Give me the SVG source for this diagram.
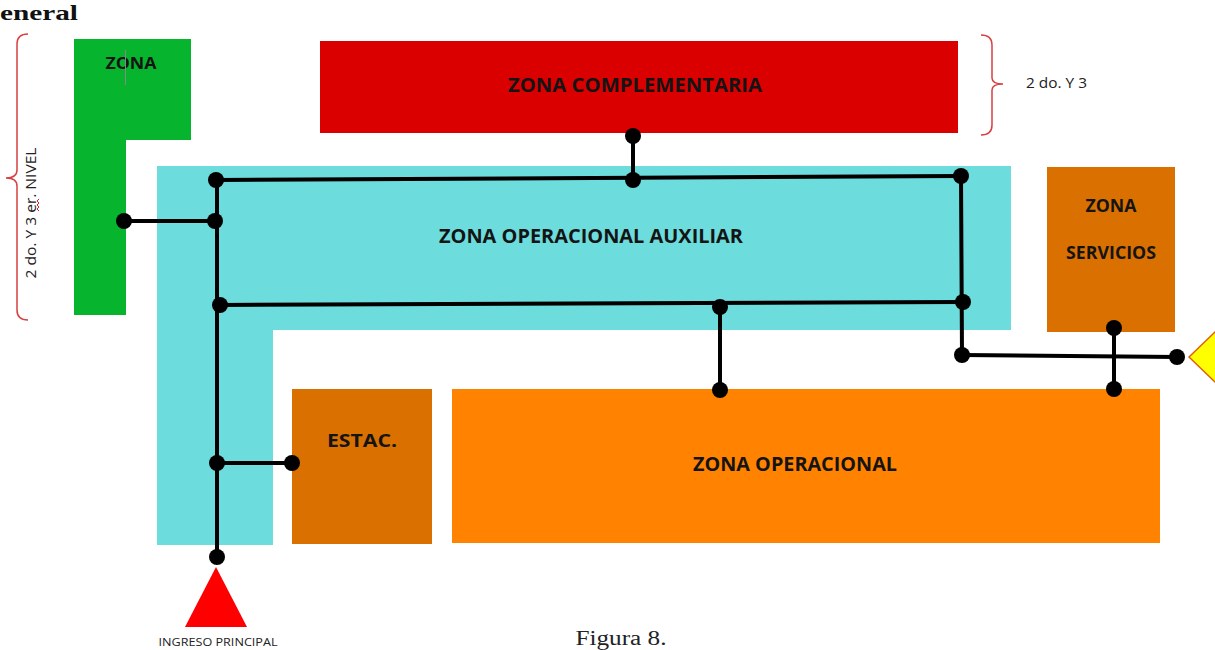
<svg xmlns="http://www.w3.org/2000/svg" width="1215" height="650" viewBox="0 0 1215 650">
<style>
.lbl{font-family:"Open Sans","Liberation Sans",sans-serif;font-weight:700;fill:#141414;text-anchor:middle}
.note{font-family:"Open Sans","Liberation Sans",sans-serif;fill:#222}
.br{fill:none;stroke:#d94040;stroke-width:1.5}
.cn line{stroke:#000;stroke-width:4;stroke-linecap:round}
.cn circle{fill:#000}
</style>
<rect width="1215" height="650" fill="#fff"/>
<text x="0" y="20" font-family="'Liberation Serif',serif" font-weight="700" font-size="22" fill="#111" textLength="78" lengthAdjust="spacingAndGlyphs">eneral</text>

<g id="zona-verde">
<path d="M74,39 H191 V140 H126 V315 H74 Z" fill="#07b42d"/>
<text class="lbl" x="131" y="69" font-size="16" textLength="51" lengthAdjust="spacingAndGlyphs">ZONA</text>
<line x1="125.5" y1="50" x2="125.5" y2="85" stroke="#888" stroke-width="1"/>
</g>

<g id="nivel-bracket">
<path class="br" d="M28,34 Q17,34 17,44 V170 Q17,178 6,178 Q17,178 17,186 V310 Q17,320 28,320"/>
<text class="note" transform="translate(36,213) rotate(-90)" font-size="14" text-anchor="middle" textLength="131" lengthAdjust="spacingAndGlyphs">2 do. Y 3 er. NIVEL</text>
<path d="M39,199 l-2,2 l2,2 l-2,2 l2,2 l-2,2 l2,2" fill="none" stroke="#e02020" stroke-width="1"/>
</g>

<g id="zona-complementaria">
<rect x="320" y="41" width="638" height="92" fill="#da0000"/>
<text class="lbl" x="635" y="92" font-size="19" textLength="254" lengthAdjust="spacingAndGlyphs">ZONA COMPLEMENTARIA</text>
</g>

<g id="nivel-bracket-2">
<path class="br" d="M981,35 Q992,35 992,45 V78 Q992,84 1003,84 Q992,84 992,90 V125 Q992,135 981,135"/>
<text class="note" x="1026" y="88" font-size="14" textLength="61" lengthAdjust="spacingAndGlyphs">2 do. Y 3</text>
</g>

<g id="zona-operacional-auxiliar">
<path d="M157,166 H1011 V330 H273 V545 H157 Z" fill="#6cdcdc"/>
<text class="lbl" x="591" y="243" font-size="19" textLength="304" lengthAdjust="spacingAndGlyphs">ZONA OPERACIONAL AUXILIAR</text>
</g>

<g id="zona-servicios">
<rect x="1047" y="167" width="128" height="165" fill="#d97000"/>
<text class="lbl" x="1111" y="212" font-size="17" textLength="51" lengthAdjust="spacingAndGlyphs">ZONA</text>
<text class="lbl" x="1111" y="259" font-size="17" textLength="90" lengthAdjust="spacingAndGlyphs">SERVICIOS</text>
</g>

<g id="estac">
<rect x="292" y="389" width="140" height="155" fill="#d97000"/>
<text class="lbl" x="362" y="447" font-size="18" textLength="70" lengthAdjust="spacingAndGlyphs">ESTAC.</text>
</g>

<g id="zona-operacional">
<rect x="452" y="389" width="708" height="154" fill="#ff8300"/>
<text class="lbl" x="795" y="471" font-size="19" textLength="204" lengthAdjust="spacingAndGlyphs">ZONA OPERACIONAL</text>
</g>

<g id="ingreso-principal">
<polygon points="216,567 247,627 185,627" fill="#ff0000"/>
<text class="note" x="218" y="646" font-size="11" text-anchor="middle" textLength="119" lengthAdjust="spacingAndGlyphs">INGRESO PRINCIPAL</text>
</g>

<g id="ingreso-servicio">
<polygon points="1189,357 1216,331 1216,383" fill="#ffff00" stroke="#e06010" stroke-width="1.5"/>
</g>

<g id="connectors" class="cn">
<line x1="216" y1="180" x2="961" y2="176"/>
<line x1="633" y1="136" x2="633" y2="180"/>
<line x1="124" y1="221" x2="216" y2="221"/>
<line x1="217" y1="180" x2="217" y2="557"/>
<line x1="220" y1="305" x2="963" y2="302"/>
<line x1="720" y1="307" x2="720" y2="390"/>
<line x1="961" y1="176" x2="962" y2="355"/>
<line x1="962" y1="355" x2="1177" y2="357"/>
<line x1="1114" y1="328" x2="1114" y2="389"/>
<line x1="217" y1="463" x2="292" y2="463"/>
<circle cx="216" cy="180" r="8"/>
<circle cx="633" cy="180" r="8"/>
<circle cx="961" cy="176" r="8"/>
<circle cx="633" cy="136" r="8"/>
<circle cx="124" cy="221" r="8"/>
<circle cx="215" cy="221" r="8"/>
<circle cx="220" cy="305" r="8"/>
<circle cx="720" cy="307" r="8"/>
<circle cx="963" cy="302" r="8"/>
<circle cx="720" cy="390" r="8"/>
<circle cx="962" cy="355" r="8"/>
<circle cx="1114" cy="328" r="8"/>
<circle cx="1177" cy="357" r="8"/>
<circle cx="1114" cy="389" r="8"/>
<circle cx="217" cy="463" r="8"/>
<circle cx="292" cy="463" r="8"/>
<circle cx="217" cy="557" r="8"/>
</g>

<text x="621" y="645" font-family="'Liberation Serif','DejaVu Serif',serif" font-size="20" fill="#222" text-anchor="middle" textLength="91" lengthAdjust="spacingAndGlyphs">Figura 8.</text>
</svg>
